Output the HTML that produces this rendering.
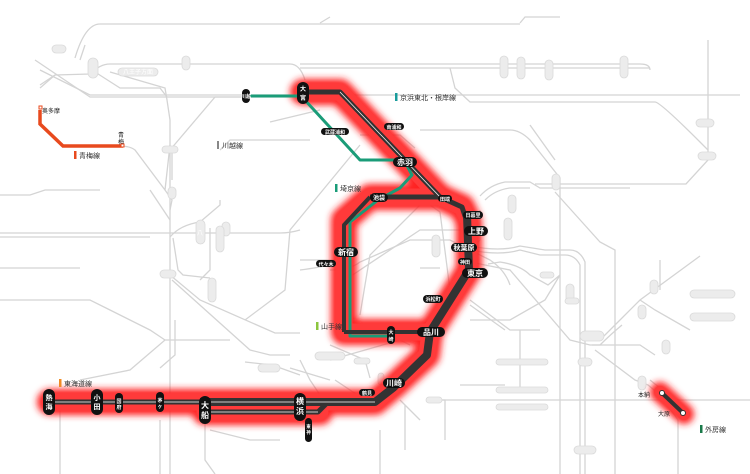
<!DOCTYPE html>
<html><head><meta charset="utf-8"><style>
html,body{margin:0;padding:0;background:#fff;}
svg{display:block;font-family:"Liberation Sans","Noto Sans CJK JP",sans-serif;}
.g{fill:none;stroke:#d4d4d4;stroke-width:1.3}
.gp{fill:#ececec;stroke:#dadada;stroke-width:0.8}
.gt{fill:#fff;font-size:6px;text-anchor:middle}
.bp{fill:#111}
.bt{fill:#fff;font-size:6px;text-anchor:middle;font-weight:bold}
.lg{font-size:7px;fill:#333}
</style></head><body>
<svg width="750" height="474" viewBox="0 0 750 474" xmlns="http://www.w3.org/2000/svg">
<defs><filter id="bl" x="-20%" y="-20%" width="140%" height="140%"><feGaussianBlur stdDeviation="3.5"/></filter></defs>
<g class="g">
<path d="M75 58 Q85 24 100 24 L520 24"/>
<path d="M40 70 L90 95 L740 95"/>
<path d="M35 60 L90 97 L290 97 L300 92"/>
<path d="M40 85 L55 75 L90 74 Q100 64 110 64 L290 64 Q300 64 305 80"/>
<path d="M40 88 L55 75"/>
<path d="M85 45 L80 60"/>
<path d="M95 72 L120 88 L160 88 L167 97"/>
<path d="M300 64 L640 64 Q650 64 650 70"/>
<path d="M300 68 L650 68"/>
<path d="M450 68 L455 88 L470 102 L655 102 Q660 102 700 142 L708 150 L708 160 L686 184 L535 184"/>
<path d="M708 40 L708 150"/>
<path d="M320 23 L330 17"/>
<path d="M520 23 L525 17 L560 17"/>
<path d="M110 72 L165 88 L167 100 L170 120 L170 150 L170 260 L170 474"/>
<path d="M170 145 L165 190 L172 200 L170 210"/>
<path d="M172 150 L172 180"/>
<path d="M120 146 Q130 146 135 150 L165 190"/>
<path d="M170 150 L215 97 L245 97"/>
<path d="M0 195 L30 195 L45 190 L100 190"/>
<path d="M0 233 L150 233 L280 233 Q290 233 300 230"/>
<path d="M0 237 L150 237"/>
<path d="M170 237 Q180 225 200 222 L220 205 L220 200"/>
<path d="M150 190 L170 220"/>
<path d="M173 238 L178 270 L183 275 L210 278"/>
<path d="M210 228 L210 270 L200 280"/>
<path d="M170 275 L200 300 L275 333 L300 333"/>
<path d="M172 280 L250 350 L270 355 L290 355"/>
<path d="M360 145 L290 230 L285 290 L245 320"/>
<path d="M220 150 L230 140 L310 140"/>
<path d="M360 135 L400 135 L415 148"/>
<path d="M420 130 L510 130 Q520 130 530 140 L560 178 L560 474"/>
<path d="M530 125 L555 160"/>
<path d="M270 122 L320 110"/>
<path d="M0 268 L80 268"/>
<path d="M0 300 L90 300 L110 310 L150 330 L165 340"/>
<path d="M80 380 L130 370 L165 340 L230 340"/>
<path d="M160 368 L175 355 L175 320"/>
<path d="M60 410 L60 474"/>
<path d="M160 420 L160 474"/>
<path d="M205 410 L205 460 L215 474"/>
<path d="M210 430 L250 440 L280 440"/>
<path d="M245 362 L272 365 L300 375"/>
<path d="M330 360 L400 340 L410 345"/>
<path d="M300 360 L310 380 L320 395"/>
<path d="M330 345 L365 360 L370 378"/>
<path d="M335 380 L365 400"/>
<path d="M405 405 L405 450"/>
<path d="M430 400 L445 400 L445 440"/>
<path d="M400 400 L420 420"/>
<path d="M380 430 L380 474"/>
<path d="M440 400 L750 400"/>
<path d="M460 385 L505 385"/>
<path d="M290 368 L330 380"/>
<path d="M330 270 Q350 270 360 262 L410 240 L450 240 L470 250"/>
<path d="M300 260 L340 260"/>
<path d="M420 268 L440 268"/>
<path d="M345 280 L420 230 L470 230"/>
<path d="M420 205 L370 255 L360 315"/>
<path d="M380 198 L420 198 L440 212 L450 290 L440 310"/>
<path d="M300 270 Q340 265 350 256"/>
<path d="M480 210 L480 240 L470 250 L490 260 Q505 270 510 285"/>
<path d="M480 196 Q490 185 505 182 L530 182 L540 188 L630 188"/>
<path d="M485 200 Q495 190 510 188 L530 188"/>
<path d="M555 192 L600 242 L615 250 L615 474"/>
<path d="M470 250 Q500 256 520 250 L540 255 L565 255 Q575 255 580 265 L580 474"/>
<path d="M470 246 Q500 252 520 246 L545 250 L570 250 Q580 250 585 262 L585 474"/>
<path d="M488 264 L500 262 Q520 265 530 275 L548 285 L560 275"/>
<path d="M470 262 L510 270 L570 340 L590 345 L640 345 L655 355"/>
<path d="M560 275 L545 300 L510 320 L470 320"/>
<path d="M590 340 L600 340 Q610 330 620 320 L640 300 L700 256"/>
<path d="M592 345 L600 345 Q610 335 622 325"/>
<path d="M640 300 L655 310 L690 330"/>
<path d="M595 350 L635 380 L648 385 L660 395 L678 420 L678 474"/>
<path d="M650 380 L665 392"/>
<path d="M660 260 L660 290"/>
<path d="M520 330 L520 390"/>
<path d="M470 300 L510 330 L540 330"/>
<path d="M470 305 L505 330"/>
</g>
<g>
<rect class="gp" x="52" y="45" width="14" height="8" rx="4"/>
<rect class="gp" x="88" y="58" width="10" height="20" rx="5"/>
<rect class="gp" x="118" y="68" width="40" height="8" rx="4"/><text class="gt" x="138" y="74">八王子方面</text>
<rect class="gp" x="182" y="56" width="8" height="14" rx="4"/>
<rect class="gp" x="162" y="146" width="16" height="7" rx="3.5"/>
<rect class="gp" x="168" y="187" width="8" height="12" rx="4"/>
<rect class="gp" x="196" y="220" width="9" height="24" rx="4.5"/><text class="gt" x="200" y="235">八</text>
<rect class="gp" x="222" y="222" width="8" height="14" rx="4"/>
<rect class="gp" x="216" y="226" width="8" height="26" rx="4"/>
<rect class="gp" x="160" y="270" width="16" height="8" rx="4"/>
<rect class="gp" x="208" y="278" width="8" height="24" rx="4"/>
<rect class="gp" x="500" y="56" width="8" height="22" rx="4"/>
<rect class="gp" x="517" y="57" width="8" height="22" rx="4"/>
<rect class="gp" x="545" y="60" width="8" height="20" rx="4"/>
<rect class="gp" x="620" y="56" width="8" height="22" rx="4"/>
<rect class="gp" x="696" y="119" width="18" height="8" rx="4"/>
<rect class="gp" x="698" y="152" width="18" height="8" rx="4"/>
<rect class="gp" x="552" y="174" width="8" height="16" rx="4"/>
<rect class="gp" x="508" y="195" width="8" height="18" rx="4"/>
<rect class="gp" x="432" y="235" width="8" height="22" rx="4"/>
<rect class="gp" x="504" y="218" width="8" height="22" rx="4"/>
<rect class="gp" x="540" y="272" width="14" height="6" rx="3"/>
<rect class="gp" x="566" y="284" width="8" height="18" rx="4"/>
<rect class="gp" x="565" y="298" width="14" height="6" rx="3"/>
<rect class="gp" x="580" y="331" width="24" height="10" rx="5"/>
<rect class="gp" x="578" y="358" width="14" height="8" rx="4"/>
<rect class="gp" x="638" y="305" width="8" height="14" rx="4"/>
<rect class="gp" x="650" y="280" width="8" height="14" rx="4"/>
<rect class="gp" x="662" y="340" width="8" height="14" rx="4"/>
<rect class="gp" x="638" y="376" width="8" height="14" rx="4"/>
<rect class="gp" x="690" y="290" width="45" height="8" rx="4"/>
<rect class="gp" x="690" y="313" width="45" height="8" rx="4"/>
<rect class="gp" x="496" y="359" width="52" height="6" rx="3"/>
<rect class="gp" x="496" y="387" width="52" height="6" rx="3"/>
<rect class="gp" x="496" y="404" width="52" height="6" rx="3"/>
<rect class="gp" x="574" y="446" width="22" height="8" rx="4"/>
<rect class="gp" x="315" y="352" width="30" height="8" rx="4"/>
<rect class="gp" x="258" y="364" width="22" height="8" rx="4"/>
<rect class="gp" x="354" y="358" width="16" height="6" rx="3"/>
<rect class="gp" x="378" y="373" width="6" height="12" rx="3"/>
<rect class="gp" x="426" y="397" width="16" height="6" rx="3"/>
</g>
<g fill="none" stroke="#ff2020" stroke-linecap="round" stroke-linejoin="round" filter="url(#bl)">
<path stroke-width="26" d="M303 92 L340 92 L440 197 L462 207 L469 222 L469 270 L430 332 L344 332 L344 220 L370 197 L440 197"/>
<path stroke-width="26" d="M430 332 L427 355 L395 385 L375 402 L50 402"/>
<path stroke-width="26" d="M205 412 L320 412"/>
<path stroke-width="20" d="M660 392 L684 414"/>
</g>
<g fill="none" stroke="#ff3a3a" stroke-linejoin="round" stroke-linecap="round">
<path stroke-width="17" d="M303 92 L340 92 L440 197 L462 207 L469 222 L469 270 L430 332 L344 332 L344 220 L370 197 L440 197"/>
<path stroke-width="17" d="M430 332 L427 355 L395 385 L375 402 L50 402"/>
<path stroke-width="17" d="M205 412 L320 412"/>
<path stroke-width="12" d="M660 392 L684 414"/>
</g>
<path d="M40 110 L40 124 L63 146 L123 146" fill="none" stroke="#e84a1e" stroke-width="3.5"/>
<g fill="none" stroke="#1a9c78" stroke-width="3" stroke-linejoin="round">
<path d="M245 96 L303 96"/>
<path d="M303 98 L360 160 L404 160 L412 175 L400 188 L378 200 L350 222 L350 336 L390 336"/>
</g>
<g fill="none" stroke="#333" stroke-linejoin="round">
<path stroke-width="5" d="M303 92 L340 92 L440 197"/>
<path stroke-width="5" d="M370 197 L440 197 L462 207 L467 222"/>
<path stroke-width="4" d="M344 332 L344 225 L370 197"/>
<path stroke-width="4" d="M344 332 L430 332"/>
<path stroke-width="8" d="M467 215 L469 270 L430 332"/>
<path stroke-width="8" d="M430 332 L427 355 L393 388 L375 402 L200 402"/>
<path stroke-width="5" d="M200 402 L50 402"/>
<path stroke-width="5" d="M205 412 L318 412 L327 403"/>
<path stroke-width="4" d="M662 393 L683 413"/>
</g>
<g fill="none" stroke="#fff" stroke-width="0.7">
<path d="M50 402 L375 402"/>
<path d="M205 412 L318 412"/>
<path d="M340 92 L440 197"/>
</g>
<g>
<rect class="bp" x="297" y="82" width="12" height="22" rx="6"/><text class="bt" x="303" y="91">大</text><text class="bt" x="303" y="100">宮</text>
<rect class="bp" x="242" y="89" width="8" height="14" rx="4"/><text class="bt" x="246" y="98" style="font-size:5px">川越</text>
<rect class="bp" x="321" y="128" width="28" height="7" rx="3.5"/><text class="bt" x="335" y="134" style="font-size:5px">武蔵浦和</text>
<rect class="bp" x="384" y="123" width="20" height="7" rx="3.5"/><text class="bt" x="394" y="129" style="font-size:5px">南浦和</text>
<rect class="bp" x="393" y="157" width="24" height="10" rx="5"/><text class="bt" x="405" y="165" style="font-size:8px">赤羽</text>
<rect class="bp" x="370" y="193" width="18" height="9" rx="4.5"/><text class="bt" x="379" y="200">池袋</text>
<rect class="bp" x="438" y="195" width="14" height="7" rx="3.5"/><text class="bt" x="445" y="201" style="font-size:5px">田端</text>
<rect class="bp" x="463" y="211" width="20" height="8" rx="4"/><text class="bt" x="473" y="217" style="font-size:5px">日暮里</text>
<rect class="bp" x="464" y="226" width="24" height="10" rx="5"/><text class="bt" x="476" y="234" style="font-size:8px">上野</text>
<rect class="bp" x="451" y="243" width="26" height="9" rx="4.5"/><text class="bt" x="464" y="250" style="font-size:7px">秋葉原</text>
<rect class="bp" x="458" y="258" width="14" height="7" rx="3.5"/><text class="bt" x="465" y="264" style="font-size:5px">神田</text>
<rect class="bp" x="462" y="268" width="26" height="10" rx="5"/><text class="bt" x="475" y="276" style="font-size:8px">東京</text>
<rect class="bp" x="423" y="295" width="20" height="8" rx="4"/><text class="bt" x="433" y="301" style="font-size:5px">浜松町</text>
<rect class="bp" x="334" y="247" width="24" height="10" rx="5"/><text class="bt" x="346" y="255" style="font-size:8px">新宿</text>
<rect class="bp" x="316" y="260" width="20" height="7" rx="3.5"/><text class="bt" x="326" y="266" style="font-size:5px">代々木</text>
<rect class="bp" x="387" y="326" width="8" height="18" rx="4"/><text class="bt" x="391" y="334" style="font-size:5px">大</text><text class="bt" x="391" y="341" style="font-size:5px">崎</text>
<rect class="bp" x="417" y="327" width="28" height="10" rx="5"/><text class="bt" x="431" y="335" style="font-size:8px">品川</text>
<rect class="bp" x="383" y="378" width="22" height="10" rx="5"/><text class="bt" x="394" y="386" style="font-size:8px">川崎</text>
<rect class="bp" x="359" y="389" width="16" height="7" rx="3.5"/><text class="bt" x="367" y="395" style="font-size:5px">鶴見</text>
<rect class="bp" x="294" y="393" width="12" height="28" rx="6"/><text class="bt" x="300" y="404" style="font-size:8px">横</text><text class="bt" x="300" y="414" style="font-size:8px">浜</text>
<rect class="bp" x="305" y="418" width="7" height="24" rx="3.5"/><text class="bt" x="308.5" y="428" style="font-size:4.5px">東</text><text class="bt" x="308.5" y="434" style="font-size:4.5px">神</text>
<rect class="bp" x="199" y="396" width="12" height="28" rx="6"/><text class="bt" x="205" y="408" style="font-size:8px">大</text><text class="bt" x="205" y="418" style="font-size:8px">船</text>
<rect class="bp" x="156" y="392" width="8" height="20" rx="4"/><text class="bt" x="160" y="402" style="font-size:5px">茅</text><text class="bt" x="160" y="408" style="font-size:5px">ヶ</text>
<rect class="bp" x="115" y="393" width="8" height="20" rx="4"/><text class="bt" x="119" y="403" style="font-size:5px">国</text><text class="bt" x="119" y="409" style="font-size:5px">府</text>
<rect class="bp" x="91" y="389" width="12" height="26" rx="6"/><text class="bt" x="97" y="400" style="font-size:7px">小</text><text class="bt" x="97" y="409" style="font-size:7px">田</text>
<rect class="bp" x="43" y="389" width="12" height="26" rx="6"/><text class="bt" x="49" y="400" style="font-size:7px">熱</text><text class="bt" x="49" y="409" style="font-size:7px">海</text>
<circle cx="662" cy="393" r="2.5" fill="#fff" stroke="#333"/><circle cx="683" cy="413" r="2.5" fill="#fff" stroke="#333"/>
</g>
<g font-size="6" fill="#222">
<text x="42" y="113">奥多摩</text>
<text x="118" y="137">青</text><text x="118" y="144">梅</text>
<rect x="39" y="106" width="3" height="3" fill="#fff" stroke="#e84a1e"/><rect x="121" y="144" width="3" height="3" fill="#fff" stroke="#e84a1e"/>
<text x="638" y="397">本納</text>
<text x="658" y="416">大原</text>
</g>
<g class="lg">
<rect x="74" y="151" width="2.5" height="8" fill="#e84a1e"/><text x="79" y="158">青梅線</text>
<rect x="217" y="141" width="2" height="8" fill="#888"/><text x="222" y="148">川越線</text>
<rect x="395" y="93" width="2.5" height="8" fill="#1a9c9c"/><text x="400" y="100">京浜東北・根岸線</text>
<rect x="335" y="184" width="2.5" height="8" fill="#1a9c78"/><text x="340" y="191">埼京線</text>
<rect x="316" y="322" width="2.5" height="8" fill="#8cc63f"/><text x="321" y="329">山手線</text>
<rect x="59" y="379" width="2.5" height="8" fill="#f08a24"/><text x="64" y="386">東海道線</text>
<rect x="700" y="425" width="2.5" height="8" fill="#1a7a4a"/><text x="705" y="432">外房線</text>
</g>
</svg>
</body></html>
